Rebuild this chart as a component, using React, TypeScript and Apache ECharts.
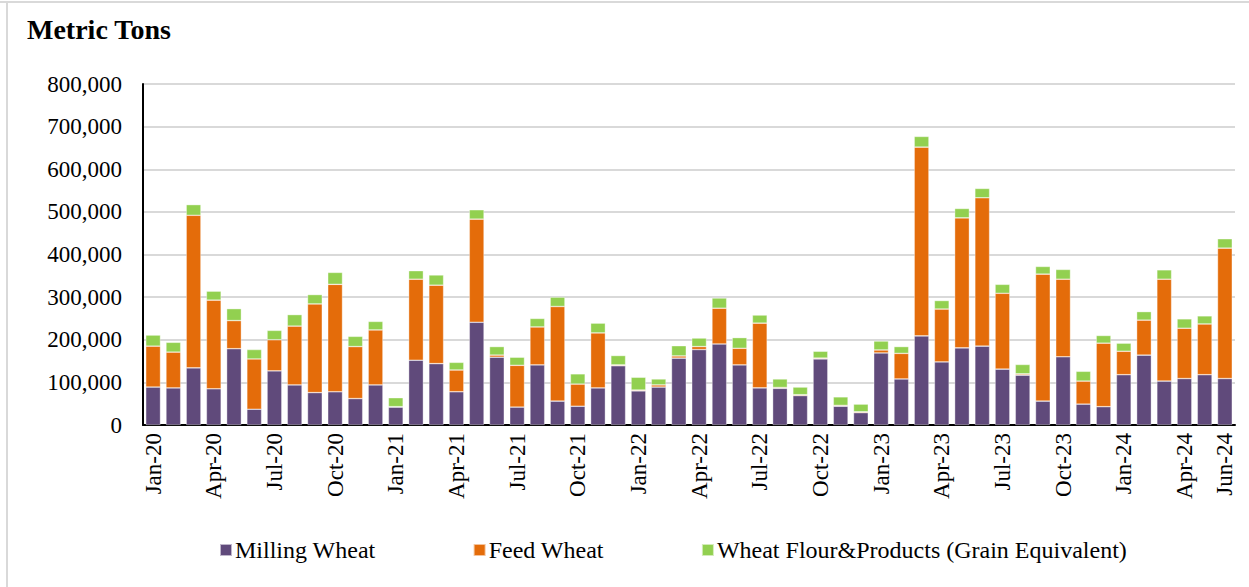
import React, { useEffect, useRef } from "react";
import * as echarts from "echarts";

const months = [
  "Jan-20","Feb-20","Mar-20","Apr-20","May-20","Jun-20","Jul-20","Aug-20","Sep-20","Oct-20","Nov-20","Dec-20",
  "Jan-21","Feb-21","Mar-21","Apr-21","May-21","Jun-21","Jul-21","Aug-21","Sep-21","Oct-21","Nov-21","Dec-21",
  "Jan-22","Feb-22","Mar-22","Apr-22","May-22","Jun-22","Jul-22","Aug-22","Sep-22","Oct-22","Nov-22","Dec-22",
  "Jan-23","Feb-23","Mar-23","Apr-23","May-23","Jun-23","Jul-23","Aug-23","Sep-23","Oct-23","Nov-23","Dec-23",
  "Jan-24","Feb-24","Mar-24","Apr-24","May-24","Jun-24",
];

// Cumulative tops (thousand metric tons)
const millingTop = [
  89, 87, 134, 85, 179, 37, 127, 94, 76, 78, 62, 94,
  42, 152, 144, 78, 241, 159, 42, 141, 56, 44, 87, 139,
  80, 89, 157, 177, 190, 141, 87, 86, 69, 155, 44, 29,
  169, 108, 209, 148, 181, 185, 131, 117, 56, 160, 49, 43,
  118, 164, 103, 109, 118, 109,
];
const feedTop = [
  185, 171, 492, 293, 245, 155, 200, 232, 284, 330, 184, 223,
  43, 342, 328, 129, 483, 164, 140, 230, 278, 96, 216, 141,
  82, 94, 162, 184, 274, 180, 239, 88, 71, 157, 46, 31,
  176, 168, 652, 272, 486, 533, 309, 120, 354, 342, 103, 192,
  173, 246, 342, 227, 237, 415,
];
const totalTop = [
  211, 194, 517, 314, 273, 177, 222, 259, 306, 358, 208, 243,
  64, 362, 352, 147, 505, 184, 159, 250, 300, 120, 239, 163,
  112, 108, 186, 204, 298, 205, 258, 108, 89, 173, 66, 49,
  197, 184, 677, 292, 508, 555, 330, 142, 372, 365, 126, 210,
  192, 266, 364, 249, 256, 437,
];

const millingWheat = millingTop.map((v) => v * 1000);
const feedWheat = feedTop.map((v, i) => (v - millingTop[i]) * 1000);
const wheatFlour = totalTop.map((v, i) => (v - feedTop[i]) * 1000);

const yTicks = [0, 100000, 200000, 300000, 400000, 500000, 600000, 700000, 800000];

const FONT = "Liberation Serif";

export default function App() {
  const ref = useRef<HTMLDivElement>(null);
  useEffect(() => {
    if (!ref.current) return;
    const chart = echarts.init(ref.current, undefined, { renderer: "svg" });
    const barStyle = { borderColor: "rgba(255,255,255,0.6)", borderWidth: 0.6 };
    chart.setOption({
      animation: false,
      backgroundColor: "#ffffff",
      textStyle: { fontFamily: FONT },
      grid: { left: 143, right: 14, top: 84, bottom: 162, containLabel: false },
      graphic: [
        { type: "line", shape: { x1: 0, y1: 2, x2: 1249, y2: 2 }, style: { stroke: "#D9D9D9", lineWidth: 2 } },
        { type: "line", shape: { x1: 7, y1: 2, x2: 7, y2: 587 }, style: { stroke: "#D9D9D9", lineWidth: 2 } },
        {
          type: "text",
          left: 27,
          top: 15,
          style: { text: "Metric Tons", fontFamily: FONT, fontWeight: "bold", fontSize: 28, fill: "#000" },
        },
      ],
      legend: {
        left: 214,
        top: 533,
        itemWidth: 12,
        itemHeight: 12,
        itemGap: 97,
        icon: "rect",
        textStyle: { fontFamily: FONT, fontSize: 24, color: "#000", padding: [0, 0, 0, -2] },
        data: ["Milling Wheat", "Feed Wheat", "Wheat Flour&Products (Grain Equivalent)"],
      },
      xAxis: {
        type: "category",
        data: months,
        axisLine: { show: true, lineStyle: { color: "#000", width: 2 } },
        axisTick: { show: false },
        axisLabel: {
          rotate: 90,
          margin: 8,
          fontFamily: FONT,
          fontSize: 23,
          color: "#000",
          interval: (i: number) => i % 3 === 0 || i === months.length - 1,
        },
      },
      yAxis: {
        type: "value",
        min: yTicks[0],
        max: yTicks[yTicks.length - 1],
        interval: 100000,
        axisLine: { show: true, lineStyle: { color: "#000", width: 2 } },
        axisTick: { show: false },
        splitLine: { lineStyle: { color: "#D9D9D9", width: 2 } },
        axisLabel: {
          margin: 21,
          fontFamily: FONT,
          fontSize: 23,
          color: "#000",
          formatter: (v: number) => v.toLocaleString("en-US"),
        },
      },
      series: [
        {
          name: "Milling Wheat",
          type: "bar",
          stack: "t",
          data: millingWheat,
          barCategoryGap: "27%",
          itemStyle: { color: "#604A7B", ...barStyle },
        },
        {
          name: "Feed Wheat",
          type: "bar",
          stack: "t",
          data: feedWheat,
          itemStyle: { color: "#E46C0A", ...barStyle },
        },
        {
          name: "Wheat Flour&Products (Grain Equivalent)",
          type: "bar",
          stack: "t",
          data: wheatFlour,
          itemStyle: { color: "#92D050", ...barStyle },
        },
      ],
    });
    return () => chart.dispose();
  }, []);
  return (
    <div
      ref={ref}
      style={{ position: "fixed", left: 0, top: 0, width: 1249, height: 587, background: "#fff" }}
    />
  );
}
